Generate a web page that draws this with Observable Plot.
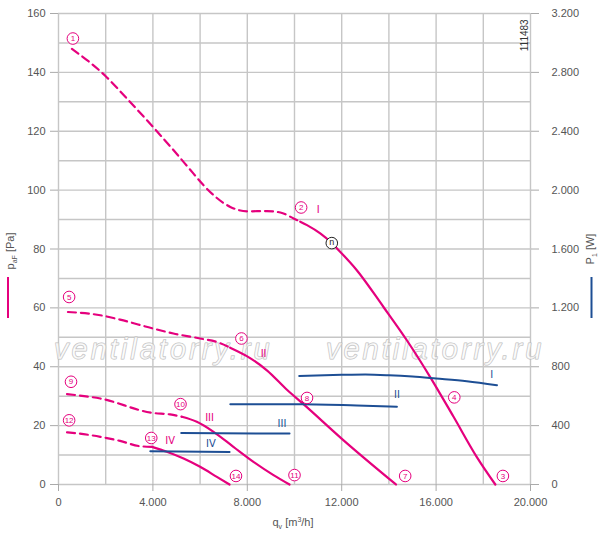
<!DOCTYPE html>
<html>
<head>
<meta charset="utf-8">
<script src="https://cdn.jsdelivr.net/npm/d3@7"></script>
<script src="https://cdn.jsdelivr.net/npm/@observablehq/plot@0.6"></script>
<style>
  html, body { margin: 0; padding: 0; background: #fff; }
  svg { display: block; }
</style>
</head>
<body>
<div id="chart"></div>
<script>
// ---- Data (q in m³/h, p in Pa, P in W) ----
const xTicks = [0, 4000, 8000, 12000, 16000, 20000];
const yTicks = [0, 20, 40, 60, 80, 100, 120, 140, 160];
const wattPerPa = 20; // right axis: 3.200 W at 160 Pa

const curve1Dashed = [[570,148],[2000,138.7],[2830,131.7],[4000,121.5],[4870,113.6],[5720,105.6],[6140,101.7],[6570,98.3],[7280,94.3],[8000,92.8],[8830,92.9],[9400,92.4],[9960,90.4],[10240,89.3]];
const curve1Solid = [[10240,89.3],[10530,88.1],[11090,85.3],[11580,82],[11800,80.2],[12640,72.8],[13770,60.3],[14760,49],[15750,36.5],[16740,23],[17720,9.4],[18510,0]];
const curve2Dashed = [[400,58.6],[1770,57.5],[2610,56.0],[4000,53.0],[4870,51.3],[6000,49.6],[6710,48.4],[7270,46.5]];
const curve2Solid = [[7270,46.5],[7980,43.6],[8830,38.8],[9680,32.2],[10380,27.3],[12080,15.0],[14300,0]];
const curve3Dashed = [[360,30.7],[1770,29.2],[4000,24.3],[4730,23.8],[5230,23.0]];
const curve3Solid = [[5230,23.0],[5860,21.3],[6570,17.9],[7410,12.8],[8260,7.7],[9110,3.2],[9790,0]];
const curve4Dashed = [[360,17.7],[1060,17.1],[1770,16.2],[2610,14.8],[3460,13.0],[3960,12.8]];
const curve4Solid = [[3960,12.8],[4590,11.1],[5300,8.8],[6000,6.0],[6710,2.6],[7250,0]];

const power1 = [[10200,738],[12000,745],[13000,747],[14000,742],[15000,733],[16000,720],[17300,702],[18580,675]];
const power2 = [[7280,546],[10300,545],[12640,537],[14340,528]];
const power3 = [[5200,350],[9790,346]];
const power4 = [[3890,226],[7250,221]];

const pinkLabels = [["I",11000,93.5],["II",8690,44.5],["III",6400,22.8],["IV",4730,15.0]];
const blueLabels = [["I",18360,748],["II",14340,614],["III",9470,418],["IV",6460,278]];
const pointMarkers = [["1",610,151.5],["2",10280,94.1],["3",18830,2.9],["4",16770,29.6],["5",450,63.7],["6",7750,49.6],["7",14690,2.9],["8",10530,29.4],["9",530,34.9],["10",5170,27.3],["11",10000,3.2],["12",450,21.8],["13",3930,15.8],["14",7520,2.9]];
const nMarker = [["n",11580,82]];
const watermark = [["ventilatorry.ru",4440,42.6],["ventilatorry.ru",15960,42.6]];
const codeLabel = [["111483",19740,152.6]];

// ---- Styles ----
const pink = "#e5007d";
const blue = "#1d4e94";
const gridColor = "#c6c6c6";
const fmt = d => d3.format(",")(d).replace(/,/g, ".");
const X = d => d[0], Y = d => d[1];
const LX = d => d[1], LY = d => d[2];

const pinkLine = (data, dashed) => Plot.line(data, {x: X, y: Y, stroke: pink, strokeWidth: 2.2, curve: "monotone-x", strokeDasharray: dashed ? "8,5" : null});
const blueLine = data => Plot.line(data, {x: X, y: d => d[1] / wattPerPa, stroke: blue, strokeWidth: 2, curve: "monotone-x"});

const chart = Plot.plot({
  width: 600,
  height: 535,
  marginLeft: 58,
  marginRight: 70,
  marginTop: 13,
  marginBottom: 51,
  style: {fontFamily: "'Liberation Sans', Arial, sans-serif", fontSize: "11px", color: "#555", background: "#fff"},
  x: {domain: [0, 20000]},
  y: {domain: [0, 160]},
  marks: [
    Plot.gridX({ticks: d3.range(0, 20001, 2000), stroke: gridColor, strokeOpacity: 1, strokeWidth: 1.4}),
    Plot.gridY({ticks: d3.range(0, 161, 10), stroke: gridColor, strokeOpacity: 1, strokeWidth: 1.4}),
    Plot.axisX({ticks: xTicks, tickFormat: fmt, tickSize: 7, tickPadding: 7, label: null, stroke: "#aaa", fill: "#555"}),
    Plot.axisY({anchor: "left", ticks: yTicks, tickSize: 8, tickPadding: 5, label: null, stroke: "#aaa", fill: "#555"}),
    Plot.axisY({anchor: "right", ticks: yTicks, tickFormat: d => fmt(d * wattPerPa), tickSize: 8, tickPadding: 13, label: null, stroke: "#aaa", fill: "#555"}),
    Plot.text(watermark, {x: LX, y: LY, text: d => d[0], fontSize: 29, fontStyle: "italic", fontFamily: "'Liberation Sans', Arial, sans-serif", fill: "#fff", fillOpacity: 0.6, stroke: "#bcbcbc", strokeWidth: 1, lineAnchor: "bottom"}),
    Plot.text(codeLabel, {x: LX, y: LY, text: d => d[0], rotate: -90, fontSize: 10, fill: "#333"}),
    pinkLine(curve1Dashed, true), pinkLine(curve1Solid, false),
    pinkLine(curve2Dashed, true), pinkLine(curve2Solid, false),
    pinkLine(curve3Dashed, true), pinkLine(curve3Solid, false),
    pinkLine(curve4Dashed, true), pinkLine(curve4Solid, false),
    blueLine(power1), blueLine(power2), blueLine(power3), blueLine(power4),
    Plot.text(pinkLabels, {x: LX, y: LY, text: d => d[0], fill: pink, fontSize: 11, fontFamily: "'DejaVu Sans Condensed', sans-serif"}),
    Plot.text(blueLabels, {x: LX, y: d => d[2] / wattPerPa, text: d => d[0], fill: blue, fontSize: 11, fontFamily: "'DejaVu Sans Condensed', sans-serif"}),
    Plot.dot(pointMarkers, {x: LX, y: LY, r: 5.8, stroke: pink, strokeWidth: 1, fill: "#fff"}),
    Plot.text(pointMarkers, {x: LX, y: LY, text: d => d[0], fill: pink, fontSize: 8, fontFamily: "'Liberation Sans Narrow', 'Liberation Sans', sans-serif"}),
    Plot.dot(nMarker, {x: LX, y: LY, r: 5.8, stroke: "#222", strokeWidth: 1, fill: "#fff"}),
    Plot.text(nMarker, {x: LX, y: LY, text: d => d[0], fill: "#222", fontSize: 9, dy: -1})
  ]
});

document.getElementById("chart").appendChild(chart);

// ---- Axis titles, legend keys, watermark spacing ----
const svg = d3.select(chart);
svg.selectAll("text").filter(function() { return this.textContent === "ventilatorry.ru"; })
  .attr("letter-spacing", 3);

const tfont = "'Liberation Sans', Arial, sans-serif";

const left = svg.append("text")
  .attr("transform", "translate(14,251) rotate(-90)")
  .attr("text-anchor", "middle").attr("fill", "#555").attr("font-size", 11).attr("font-family", tfont);
left.append("tspan").text("p");
left.append("tspan").attr("font-size", 7).attr("dy", 3).text("aF");
left.append("tspan").attr("dy", -3).text(" [Pa]");
svg.append("line").attr("x1", 8).attr("x2", 8).attr("y1", 277).attr("y2", 318).attr("stroke", pink).attr("stroke-width", 2);

const right = svg.append("text")
  .attr("transform", "translate(594,249) rotate(-90)")
  .attr("text-anchor", "middle").attr("fill", "#555").attr("font-size", 11).attr("font-family", tfont);
right.append("tspan").text("P");
right.append("tspan").attr("font-size", 7).attr("dy", 3).text("1");
right.append("tspan").attr("dy", -3).text(" [W]");
svg.append("line").attr("x1", 591.5).attr("x2", 591.5).attr("y1", 277).attr("y2", 318).attr("stroke", blue).attr("stroke-width", 2);

const bottom = svg.append("text")
  .attr("x", 293).attr("y", 526)
  .attr("text-anchor", "middle").attr("fill", "#555").attr("font-size", 11).attr("font-family", tfont);
bottom.append("tspan").text("q");
bottom.append("tspan").attr("font-size", 7).attr("dy", 3).text("v");
bottom.append("tspan").attr("dy", -3).text(" [m");
bottom.append("tspan").attr("font-size", 7).attr("dy", -4).text("3");
bottom.append("tspan").attr("dy", 4).text("/h]");
</script>
</body>
</html>
